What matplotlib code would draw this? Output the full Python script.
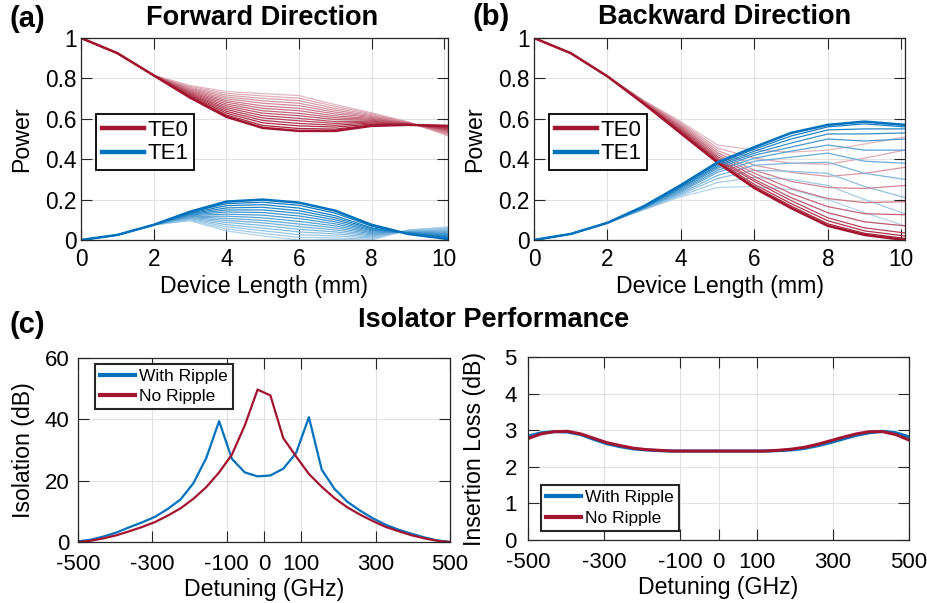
import matplotlib
matplotlib.use("Agg")
import matplotlib.pyplot as plt
import numpy as np
from matplotlib.colors import to_rgb
from matplotlib.lines import Line2D

plt.rcParams["font.family"] = ["Liberation Sans", "DejaVu Sans"]
plt.rcParams["axes.unicode_minus"] = False

RED = "#A2142F"
BLUE = "#0072BD"

# ---- (a)/(b): power vs device length, one curve per setting (light -> dark)
X_MM = [0, 1, 2, 3, 4, 5, 6, 7, 8, 9, 10.1]

FWD_TE0 = [
    [1.0, 0.925, 0.815, 0.765, 0.735, 0.725, 0.715, 0.670, 0.630, 0.585, 0.515],
    [1.0, 0.925, 0.815, 0.761, 0.726, 0.713, 0.702, 0.661, 0.625, 0.584, 0.519],
    [1.0, 0.925, 0.815, 0.756, 0.717, 0.701, 0.690, 0.651, 0.621, 0.583, 0.522],
    [1.0, 0.925, 0.815, 0.752, 0.708, 0.689, 0.677, 0.642, 0.616, 0.582, 0.526],
    [1.0, 0.925, 0.815, 0.748, 0.699, 0.677, 0.665, 0.633, 0.611, 0.581, 0.529],
    [1.0, 0.925, 0.815, 0.744, 0.690, 0.664, 0.652, 0.624, 0.607, 0.580, 0.533],
    [1.0, 0.925, 0.815, 0.739, 0.682, 0.652, 0.640, 0.614, 0.602, 0.578, 0.537],
    [1.0, 0.925, 0.815, 0.735, 0.673, 0.640, 0.627, 0.605, 0.598, 0.577, 0.540],
    [1.0, 0.925, 0.815, 0.731, 0.664, 0.628, 0.615, 0.596, 0.593, 0.576, 0.544],
    [1.0, 0.925, 0.815, 0.726, 0.655, 0.616, 0.602, 0.586, 0.588, 0.575, 0.547],
    [1.0, 0.925, 0.815, 0.722, 0.646, 0.604, 0.590, 0.577, 0.584, 0.574, 0.551],
    [1.0, 0.925, 0.815, 0.718, 0.637, 0.592, 0.577, 0.568, 0.579, 0.573, 0.554],
    [1.0, 0.925, 0.815, 0.713, 0.628, 0.580, 0.565, 0.559, 0.574, 0.572, 0.558],
    [1.0, 0.925, 0.815, 0.709, 0.619, 0.567, 0.552, 0.549, 0.570, 0.571, 0.562],
    [1.0, 0.925, 0.815, 0.705, 0.610, 0.555, 0.540, 0.540, 0.565, 0.570, 0.565],
]
FWD_TE1 = [
    [0.0, 0.025, 0.075, 0.095, 0.045, 0.020, 0.000, 0.002, 0.000, 0.050, 0.065],
    [0.0, 0.025, 0.075, 0.098, 0.055, 0.033, 0.013, 0.010, 0.005, 0.049, 0.061],
    [0.0, 0.025, 0.075, 0.101, 0.066, 0.046, 0.026, 0.020, 0.010, 0.047, 0.057],
    [0.0, 0.025, 0.075, 0.105, 0.076, 0.059, 0.040, 0.030, 0.015, 0.046, 0.052],
    [0.0, 0.025, 0.075, 0.108, 0.087, 0.072, 0.053, 0.040, 0.020, 0.044, 0.048],
    [0.0, 0.025, 0.075, 0.111, 0.097, 0.085, 0.066, 0.050, 0.025, 0.043, 0.044],
    [0.0, 0.025, 0.075, 0.114, 0.107, 0.097, 0.079, 0.060, 0.030, 0.041, 0.040],
    [0.0, 0.025, 0.075, 0.117, 0.118, 0.110, 0.092, 0.070, 0.035, 0.040, 0.035],
    [0.0, 0.025, 0.075, 0.121, 0.128, 0.123, 0.106, 0.080, 0.040, 0.039, 0.031],
    [0.0, 0.025, 0.075, 0.124, 0.139, 0.136, 0.119, 0.090, 0.045, 0.037, 0.027],
    [0.0, 0.025, 0.075, 0.127, 0.149, 0.149, 0.132, 0.100, 0.050, 0.036, 0.023],
    [0.0, 0.025, 0.075, 0.130, 0.159, 0.162, 0.145, 0.110, 0.055, 0.034, 0.018],
    [0.0, 0.025, 0.075, 0.133, 0.170, 0.175, 0.158, 0.120, 0.060, 0.033, 0.014],
    [0.0, 0.025, 0.075, 0.137, 0.180, 0.187, 0.172, 0.133, 0.068, 0.031, 0.010],
    [0.0, 0.025, 0.075, 0.140, 0.190, 0.200, 0.185, 0.145, 0.075, 0.030, 0.005],
]
BWD_TE0 = [
    [1.0, 0.925, 0.81, 0.690, 0.586, 0.470, 0.445, 0.435, 0.445, 0.475, 0.510],
    [1.0, 0.925, 0.81, 0.688, 0.580, 0.455, 0.405, 0.380, 0.375, 0.405, 0.445],
    [1.0, 0.925, 0.81, 0.687, 0.574, 0.443, 0.370, 0.335, 0.315, 0.330, 0.360],
    [1.0, 0.925, 0.81, 0.685, 0.568, 0.432, 0.345, 0.290, 0.260, 0.255, 0.270],
    [1.0, 0.925, 0.81, 0.683, 0.562, 0.422, 0.330, 0.255, 0.205, 0.185, 0.190],
    [1.0, 0.925, 0.81, 0.682, 0.557, 0.413, 0.315, 0.230, 0.165, 0.130, 0.125],
    [1.0, 0.925, 0.81, 0.680, 0.551, 0.405, 0.300, 0.210, 0.135, 0.090, 0.070],
    [1.0, 0.925, 0.81, 0.678, 0.545, 0.398, 0.290, 0.195, 0.110, 0.060, 0.035],
    [1.0, 0.925, 0.81, 0.677, 0.540, 0.392, 0.275, 0.180, 0.095, 0.045, 0.020],
    [1.0, 0.925, 0.81, 0.675, 0.534, 0.387, 0.265, 0.168, 0.080, 0.033, 0.008],
    [1.0, 0.925, 0.81, 0.673, 0.528, 0.383, 0.257, 0.158, 0.070, 0.025, 0.000],
]
BWD_TE1 = [
    [0.0, 0.03, 0.085, 0.150, 0.214, 0.260, 0.265, 0.250, 0.200, 0.135, 0.070],
    [0.0, 0.03, 0.085, 0.152, 0.220, 0.285, 0.310, 0.300, 0.270, 0.200, 0.130],
    [0.0, 0.03, 0.085, 0.153, 0.226, 0.305, 0.345, 0.340, 0.330, 0.265, 0.210],
    [0.0, 0.03, 0.085, 0.155, 0.232, 0.320, 0.370, 0.380, 0.385, 0.330, 0.300],
    [0.0, 0.03, 0.085, 0.157, 0.238, 0.335, 0.390, 0.410, 0.430, 0.390, 0.380],
    [0.0, 0.03, 0.085, 0.158, 0.243, 0.345, 0.405, 0.440, 0.470, 0.445, 0.445],
    [0.0, 0.03, 0.085, 0.160, 0.249, 0.355, 0.420, 0.460, 0.500, 0.490, 0.500],
    [0.0, 0.03, 0.085, 0.162, 0.255, 0.363, 0.430, 0.480, 0.525, 0.525, 0.530],
    [0.0, 0.03, 0.085, 0.163, 0.260, 0.370, 0.440, 0.500, 0.545, 0.550, 0.550],
    [0.0, 0.03, 0.085, 0.165, 0.266, 0.378, 0.450, 0.515, 0.560, 0.575, 0.560],
    [0.0, 0.03, 0.085, 0.168, 0.272, 0.385, 0.460, 0.530, 0.570, 0.586, 0.570],
]

# ---- (c): isolator performance vs detuning
DETUNING = np.linspace(-500, 500, 30)
ISO_RIPPLE = [0.2, 0.75, 1.8, 3.1, 4.8, 6.4, 8.2, 10.8, 13.9, 19.2, 27.4, 39.4,
              27.1, 22.7, 21.4, 21.7, 23.9, 29.0, 40.7, 23.6, 17.3, 13.1, 10.2,
              7.7, 5.6, 4.0, 2.7, 1.5, 0.5, 0.0]
ISO_NORIPPLE = [0.0, 0.4, 1.2, 2.2, 3.5, 4.9, 6.5, 8.6, 11.0, 14.1, 17.9, 22.7,
                28.5, 38.0, 49.7, 47.8, 33.9, 27.9, 22.2, 18.0, 14.3, 11.3, 8.9,
                6.8, 4.9, 3.5, 2.2, 1.2, 0.4, 0.0]
IL_RIPPLE = [2.84, 2.93, 2.96, 2.95, 2.88, 2.75, 2.63, 2.55, 2.49, 2.46, 2.44,
             2.43, 2.43, 2.43, 2.43, 2.43, 2.43, 2.43, 2.43, 2.44, 2.46, 2.50,
             2.57, 2.66, 2.76, 2.86, 2.93, 2.97, 2.93, 2.82]
IL_NORIPPLE = [2.77, 2.90, 2.96, 2.97, 2.90, 2.78, 2.66, 2.58, 2.51, 2.47, 2.45,
               2.43, 2.43, 2.43, 2.43, 2.43, 2.43, 2.43, 2.43, 2.45, 2.48, 2.53,
               2.61, 2.71, 2.81, 2.90, 2.96, 2.96, 2.88, 2.73]

W, H = 927, 603
fig = plt.figure(figsize=(W / 100, H / 100), dpi=100)


def box(l, t, r, b):
    return [l / W, 1 - b / H, (r - l) / W, (b - t) / H]


def shade(base, k, n):
    t = 0.3 + 0.7 * k / (n - 1)
    c = np.array(to_rgb(base))
    return tuple(1 - t * (1 - c))


def style(ax, size, xpad, ypad):
    ax.grid(True, color="#e2e2e2", lw=0.8)
    ax.set_axisbelow(True)
    for s in ax.spines.values():
        s.set_color("#262626")
        s.set_linewidth(0.9)
    ax.tick_params(direction="in", top=True, right=True, length=8, width=0.8,
                   color="#262626", labelsize=size)
    ax.tick_params(axis="x", pad=xpad)
    ax.tick_params(axis="y", pad=ypad)


def fan(ax, te0, te1):
    n = len(te0)
    for k in range(n):
        lw = 1.8 if k == n - 1 else 0.9
        ax.plot(X_MM, te0[k], color=shade(RED, k, n), lw=lw)
        ax.plot(X_MM, te1[k], color=shade(BLUE, k, n), lw=lw)
    ax.set_xlim(0, 10.1)
    ax.set_ylim(0, 1)
    ax.set_xticks([0, 2, 4, 6, 8, 10])
    ax.set_yticks([0, 0.2, 0.4, 0.6, 0.8, 1])
    ax.set_yticklabels(["0", "0.2", "0.4", "0.6", "0.8", "1"])
    style(ax, 16.3, 6, 3)
    ax.set_xlabel("Device Length (mm)", fontsize=16.7, labelpad=3)
    ax.set_ylabel("Power", fontsize=16.7, labelpad=9)
    handles = [Line2D([], [], color=RED, lw=3.2, label="TE0"),
               Line2D([], [], color=BLUE, lw=3.2, label="TE1")]
    leg = ax.legend(handles=handles, loc="upper left", fontsize=16,
                    bbox_to_anchor=(0.04, 0.625), borderaxespad=0,
                    handlelength=1.9, handletextpad=0.15, labelspacing=0.12,
                    borderpad=0.27, fancybox=False, framealpha=1)
    leg.get_frame().set_edgecolor("black")
    leg.get_frame().set_linewidth(1.3)


ax_a = fig.add_axes(box(81, 38, 448, 240))
ax_b = fig.add_axes(box(534, 38, 905, 240))
fan(ax_a, FWD_TE0, FWD_TE1)
fan(ax_b, BWD_TE0, BWD_TE1)

TICKS_GHZ = [-500, -300, -100, 0, 100, 300, 500]


def perf(ax, yr, yn, ylim, yticks, ylabel, anchor, ypad, lpad, lw):
    ax.plot(DETUNING, yr, color=BLUE, lw=lw, label="With Ripple")
    ax.plot(DETUNING, yn, color=RED, lw=lw, label="No Ripple")
    ax.set_xlim(-500, 500)
    ax.set_ylim(*ylim)
    ax.set_xticks(TICKS_GHZ)
    ax.set_yticks(yticks)
    style(ax, 16, 9, ypad)
    ax.set_xlabel("Detuning (GHz)", fontsize=16.7, labelpad=2)
    ax.set_ylabel(ylabel, fontsize=16.7, labelpad=lpad)
    leg = ax.legend(loc=anchor[0], bbox_to_anchor=anchor[1], fontsize=12.5,
                    borderaxespad=0, handlelength=2.0, handletextpad=0.25,
                    labelspacing=0.3, borderpad=0.3, fancybox=False,
                    framealpha=1)
    for line in leg.get_lines():
        line.set_linewidth(3)
    leg.get_frame().set_edgecolor("#262626")
    leg.get_frame().set_linewidth(1.5)


ax_c = fig.add_axes(box(78, 358, 450, 542))
ax_d = fig.add_axes(box(528, 357, 909, 540))
perf(ax_c, ISO_RIPPLE, ISO_NORIPPLE, (0, 60), [0, 20, 40, 60],
     "Isolation (dB)", ("upper left", (0.046, 0.97)), 6, 7, 1.6)
perf(ax_d, IL_RIPPLE, IL_NORIPPLE, (0, 5), [0, 1, 2, 3, 4, 5],
     "Insertion Loss (dB)", ("lower left", (0.033, 0.05)), 8, 13, 2.2)


def ftext(x, y, s, size):
    fig.text(x / W, 1 - y / H, s, fontsize=size, fontweight="bold",
             ha="center", va="center")


ftext(27, 19, "(a)", 21)
ftext(491, 17, "(b)", 21)
ftext(27, 325, "(c)", 21)
ftext(262, 18, "Forward Direction", 19.5)
ftext(725, 17, "Backward Direction", 19.5)
ftext(494, 320, "Isolator Performance", 19.5)

fig.savefig("out.png", dpi=100)
